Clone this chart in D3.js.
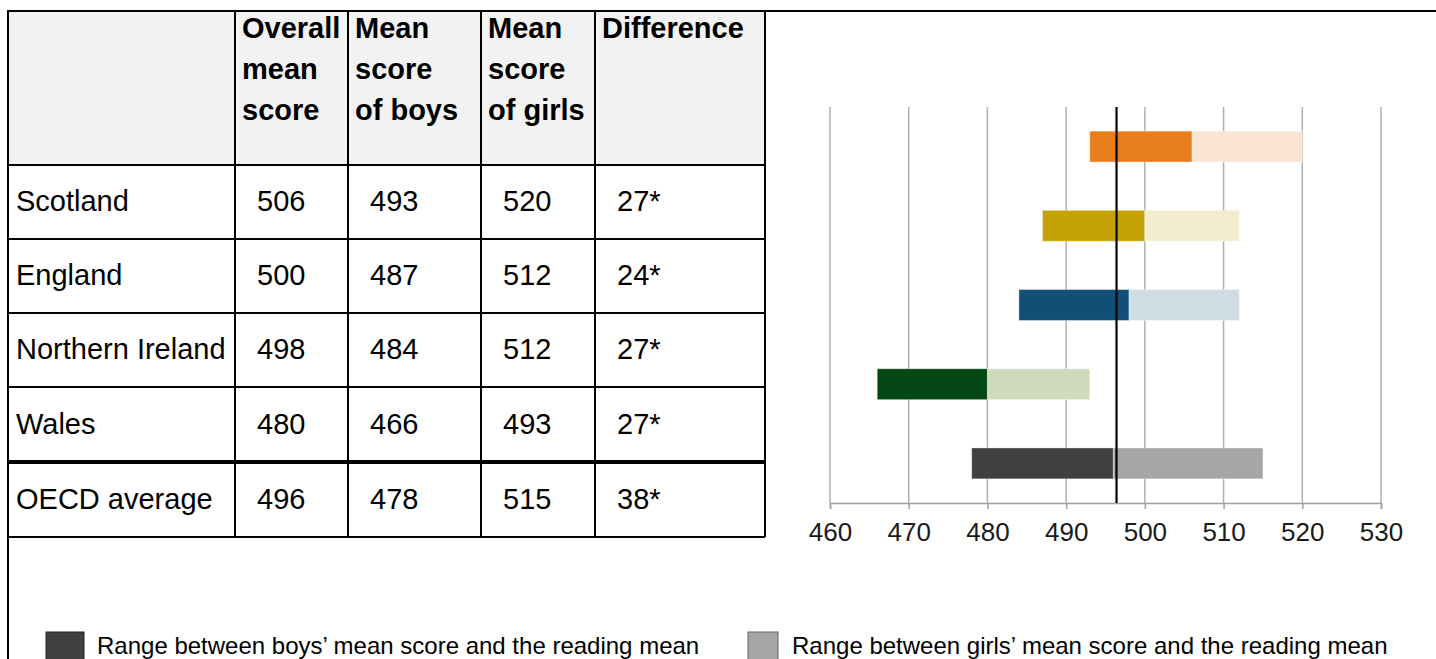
<!DOCTYPE html>
<html>
<head>
<meta charset="utf-8">
<script src="https://cdn.jsdelivr.net/npm/d3@7"></script>
<style>
  body { margin: 0; background: #fff; }
  svg { display: block; font-family: "Liberation Sans", Arial, sans-serif; }
</style>
</head>
<body>
<div id="fig"></div>
<script>
const countries = ['Scotland', 'England', 'Northern Ireland', 'Wales', 'OECD average'];
const overall = [506, 500, 498, 480, 496];
const boys = [493, 487, 484, 466, 478];
const girls = [520, 512, 512, 493, 515];
const diffLabels = ['27*', '24*', '27*', '27*', '38*'];
const headers = [
  ['Overall', 'mean', 'score'],
  ['Mean', 'score', 'of boys'],
  ['Mean', 'score', 'of girls'],
  ['Difference']
];
const ticks = [460, 470, 480, 490, 500, 510, 520, 530];
const darkColors = ['#e87e1e', '#c4a205', '#115076', '#034814', '#404040'];
const lightColors = ['#fae5d3', '#f4edcd', '#cfdce4', '#d0dbbe', '#a6a6a6'];
const legendLabels = [
  'Range between boys\u2019 mean score and the reading mean',
  'Range between girls\u2019 mean score and the reading mean'
];
const readingMean = 496.4;

const width = 1436, height = 659;

const svg = d3.select('#fig').append('svg')
  .attr('width', width)
  .attr('height', height);

// ---- table ----
const colX = [8, 235, 348, 481, 595, 765];
const rowY = [11, 165, 239, 313, 387, 462, 537];

svg.append('rect')
  .attr('x', colX[0]).attr('y', rowY[0])
  .attr('width', colX[5] - colX[0]).attr('height', rowY[1] - rowY[0])
  .attr('fill', '#f2f2f2');

const headG = svg.append('g')
  .attr('font-weight', 'bold')
  .attr('font-size', 29)
  .attr('fill', '#000');
headers.forEach((lines, i) => {
  lines.forEach((ln, j) => {
    headG.append('text')
      .attr('x', colX[i + 1] + 7)
      .attr('y', 38 + j * 41)
      .text(ln);
  });
});

const bodyG = svg.append('g').attr('font-size', 29).attr('fill', '#000');
countries.forEach((c, i) => {
  const cy = (rowY[i + 1] + rowY[i + 2]) / 2 - 1;
  const cells = [c, overall[i], boys[i], girls[i], diffLabels[i]];
  const offs = [8, 22, 22, 22, 22];
  cells.forEach((v, k) => {
    bodyG.append('text')
      .attr('x', colX[k] + offs[k])
      .attr('y', cy)
      .attr('dominant-baseline', 'central')
      .text(v);
  });
});

const lines = svg.append('g').attr('stroke', '#000').attr('stroke-width', 2);
// top rule runs across the whole page
lines.append('line').attr('x1', colX[0] - 1).attr('x2', width).attr('y1', rowY[0]).attr('y2', rowY[0]);
rowY.slice(1).forEach((y, i) => {
  lines.append('line')
    .attr('x1', colX[0]).attr('x2', colX[5])
    .attr('y1', y).attr('y2', y)
    .attr('stroke-width', i === 4 ? 4 : 2);
});
colX.forEach((x, i) => {
  lines.append('line')
    .attr('x1', x).attr('x2', x)
    .attr('y1', rowY[0]).attr('y2', i === 0 ? height : rowY[6]);
});

// ---- range chart ----
const x = d3.scaleLinear()
  .domain([460, 530])
  .range([830, 1381]);

const y = d3.scaleBand()
  .domain(countries)
  .range([107, 503])
  .paddingInner(0.61)
  .paddingOuter(0.305);

svg.append('g')
  .selectAll('line')
  .data(ticks)
  .enter()
  .append('line')
  .attr('x1', d => x(d)).attr('x2', d => x(d))
  .attr('y1', 107).attr('y2', 503)
  .attr('stroke', '#b0b0b0')
  .attr('stroke-width', 1.5);

const axis = svg.append('g')
  .attr('transform', 'translate(0,503)')
  .call(d3.axisBottom(x).tickValues(ticks).tickSize(6).tickPadding(14).tickFormat(d3.format('d')));
axis.select('.domain').attr('stroke', '#a0a0a0').attr('stroke-width', 1.5);
axis.selectAll('.tick line').attr('stroke', '#a0a0a0').attr('stroke-width', 1.5);
axis.selectAll('.tick text')
  .attr('font-size', 26)
  .attr('font-family', '"Liberation Sans", Arial, sans-serif')
  .attr('fill', '#1a1a1a');

const bars = svg.append('g');
bars.selectAll('rect.boys')
  .data(countries)
  .enter()
  .append('rect')
  .attr('class', 'boys')
  .attr('x', (d, i) => x(boys[i]))
  .attr('y', d => y(d))
  .attr('width', (d, i) => x(overall[i]) - x(boys[i]))
  .attr('height', y.bandwidth())
  .attr('fill', (d, i) => darkColors[i])
  .attr('stroke', 'rgba(255,255,255,0.35)')
  .attr('stroke-width', 1);

bars.selectAll('rect.girls')
  .data(countries)
  .enter()
  .append('rect')
  .attr('class', 'girls')
  .attr('x', (d, i) => x(overall[i]))
  .attr('y', d => y(d))
  .attr('width', (d, i) => x(girls[i]) - x(overall[i]))
  .attr('height', y.bandwidth())
  .attr('fill', (d, i) => lightColors[i])
  .attr('stroke', 'rgba(255,255,255,0.35)')
  .attr('stroke-width', 1);

svg.append('line')
  .attr('x1', x(readingMean)).attr('x2', x(readingMean))
  .attr('y1', 107).attr('y2', 503)
  .attr('stroke', '#000')
  .attr('stroke-width', 2.2);

// ---- legend ----
const legX = [46, 748];
const legG = svg.append('g');
legendLabels.forEach((lab, i) => {
  legG.append('rect')
    .attr('x', legX[i]).attr('y', 632)
    .attr('width', i === 0 ? 38 : 30).attr('height', 34)
    .attr('fill', i === 0 ? darkColors[4] : lightColors[4])
    .attr('stroke', i === 0 ? '#222' : '#666')
    .attr('stroke-width', 1);
  legG.append('text')
    .attr('x', legX[i] + (i === 0 ? 51 : 44))
    .attr('y', 654)
    .attr('font-size', 24)
    .attr('fill', '#000')
    .text(lab);
});
</script>
</body>
</html>
